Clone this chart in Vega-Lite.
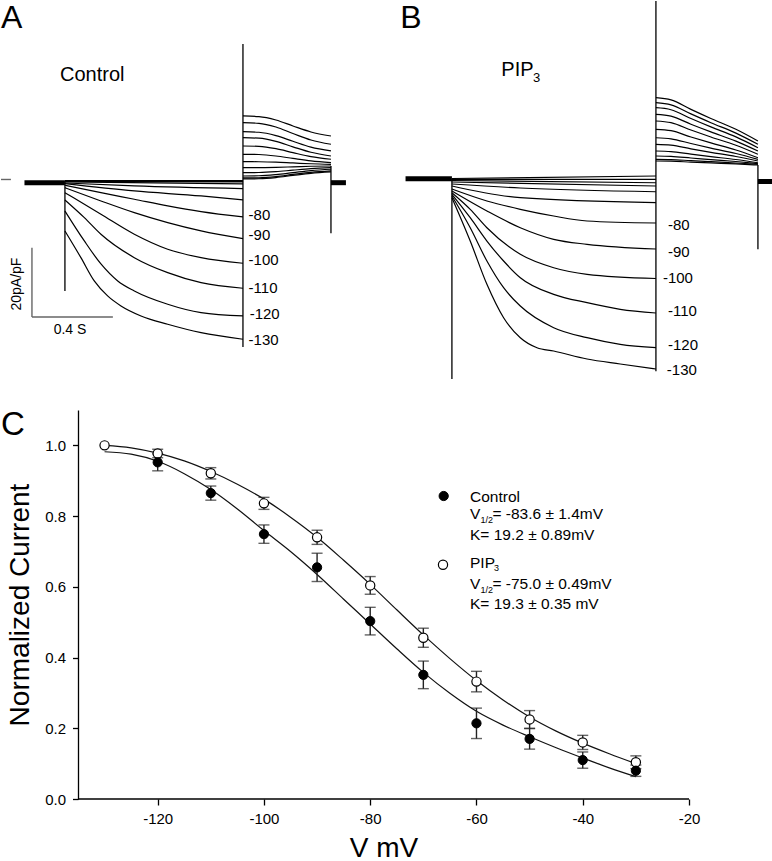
{
"$schema": "https://vega.github.io/schema/vega-lite/v6.json",
"padding": 0,
"background": "white",
"spacing": 28,
"config": {"view": {"stroke": null}, "font": "Liberation Sans", "text": {"font": "Liberation Sans", "color": "black"}},
"vconcat": [
{"hconcat": [
{"width": 386, "height": 380,
"layer": [
{"data": {"values": [
{"k":"s130","t":0.2,"i":-14.44},{"k":"s130","t":0.279,"i":-22.16},{"k":"s130","t":0.345,"i":-28.89},{"k":"s130","t":0.411,"i":-33.22},{"k":"s130","t":0.477,"i":-36.11},{"k":"s130","t":0.576,"i":-39.0},{"k":"s130","t":0.708,"i":-41.41},{"k":"s130","t":0.873,"i":-43.84},{"k":"s130","t":1.08,"i":-45.74},
{"k":"s120","t":0.2,"i":-8.67},{"k":"s120","t":0.296,"i":-17.33},{"k":"s120","t":0.378,"i":-23.98},{"k":"s120","t":0.461,"i":-28.89},{"k":"s120","t":0.543,"i":-31.78},{"k":"s120","t":0.708,"i":-35.62},{"k":"s120","t":0.873,"i":-38.05},{"k":"s120","t":1.08,"i":-39.0},
{"k":"s110","t":0.2,"i":-5.49},{"k":"s110","t":0.296,"i":-10.6},{"k":"s110","t":0.378,"i":-15.4},{"k":"s110","t":0.543,"i":-22.16},{"k":"s110","t":0.708,"i":-26.49},{"k":"s110","t":0.873,"i":-29.38},{"k":"s110","t":1.08,"i":-31.0},
{"k":"s100","t":0.2,"i":-3.38},{"k":"s100","t":0.378,"i":-9.62},{"k":"s100","t":0.543,"i":-15.4},{"k":"s100","t":0.708,"i":-19.73},{"k":"s100","t":0.873,"i":-22.16},{"k":"s100","t":1.08,"i":-23.77},
{"k":"s90","t":0.2,"i":-1.94},{"k":"s90","t":0.378,"i":-5.78},{"k":"s90","t":0.543,"i":-9.16},{"k":"s90","t":0.708,"i":-12.05},{"k":"s90","t":0.873,"i":-14.44},{"k":"s90","t":1.08,"i":-16.67},
{"k":"s80","t":0.2,"i":-1.24},{"k":"s80","t":0.378,"i":-3.38},{"k":"s80","t":0.543,"i":-5.29},{"k":"s80","t":0.708,"i":-7.22},{"k":"s80","t":0.873,"i":-8.87},{"k":"s80","t":1.08,"i":-10.4},
{"k":"s70","t":0.2,"i":-0.78},{"k":"s70","t":0.543,"i":-2.89},{"k":"s70","t":0.873,"i":-4.33},{"k":"s70","t":1.08,"i":-5.49},
{"k":"s60","t":0.2,"i":-0.58},{"k":"s60","t":0.543,"i":-1.44},{"k":"s60","t":1.08,"i":-2.22},
{"k":"s50","t":0.2,"i":-0.29},{"k":"s50","t":1.08,"i":-0.87},
{"k":"s40","t":0.2,"i":-0.14},{"k":"s40","t":1.08,"i":-0.29},
{"k":"s30","t":0.2,"i":0},{"k":"s30","t":1.08,"i":-0.09},
{"k":"s20","t":0.2,"i":0.09},{"k":"s20","t":1.08,"i":0.14},
{"k":"a130","t":1.08,"i":18.78},{"k":"a130","t":1.159,"i":18.6},{"k":"a130","t":1.243,"i":17.62},{"k":"a130","t":1.327,"i":15.89},{"k":"a130","t":1.416,"i":14.16},{"k":"a130","t":1.515,"i":13.0},
{"k":"a120","t":1.08,"i":16.84},{"k":"a120","t":1.159,"i":16.66},{"k":"a120","t":1.243,"i":15.6},{"k":"a120","t":1.327,"i":13.72},{"k":"a120","t":1.416,"i":11.84},{"k":"a120","t":1.515,"i":10.6},
{"k":"a110","t":1.08,"i":14.24},{"k":"a110","t":1.159,"i":14.07},{"k":"a110","t":1.243,"i":13.12},{"k":"a110","t":1.327,"i":11.46},{"k":"a110","t":1.416,"i":9.79},{"k":"a110","t":1.515,"i":8.67},
{"k":"a100","t":1.08,"i":12.51},{"k":"a100","t":1.159,"i":12.35},{"k":"a100","t":1.243,"i":11.44},{"k":"a100","t":1.327,"i":9.87},{"k":"a100","t":1.416,"i":8.29},{"k":"a100","t":1.515,"i":7.22},
{"k":"a90","t":1.08,"i":10.11},{"k":"a90","t":1.159,"i":10.0},{"k":"a90","t":1.243,"i":9.33},{"k":"a90","t":1.327,"i":8.19},{"k":"a90","t":1.416,"i":7.05},{"k":"a90","t":1.515,"i":6.27},
{"k":"a80","t":1.08,"i":7.71},{"k":"a80","t":1.159,"i":7.64},{"k":"a80","t":1.243,"i":7.22},{"k":"a80","t":1.327,"i":6.5},{"k":"a80","t":1.416,"i":5.78},{"k":"a80","t":1.515,"i":5.29},
{"k":"a70","t":1.08,"i":5.58},{"k":"a70","t":1.159,"i":5.55},{"k":"a70","t":1.243,"i":5.43},{"k":"a70","t":1.327,"i":5.2},{"k":"a70","t":1.416,"i":4.97},{"k":"a70","t":1.515,"i":4.82},
{"k":"a60","t":1.08,"i":3.84},{"k":"a60","t":1.159,"i":3.86},{"k":"a60","t":1.243,"i":3.93},{"k":"a60","t":1.327,"i":4.09},{"k":"a60","t":1.416,"i":4.25},{"k":"a60","t":1.515,"i":4.33},
{"k":"a50","t":1.08,"i":2.4},{"k":"a50","t":1.159,"i":2.44},{"k":"a50","t":1.243,"i":2.69},{"k":"a50","t":1.327,"i":3.12},{"k":"a50","t":1.416,"i":3.55},{"k":"a50","t":1.515,"i":3.84},
{"k":"a40","t":1.08,"i":1.44},{"k":"a40","t":1.159,"i":1.5},{"k":"a40","t":1.243,"i":1.85},{"k":"a40","t":1.327,"i":2.41},{"k":"a40","t":1.416,"i":3.0},{"k":"a40","t":1.515,"i":3.38},
{"k":"a30","t":1.08,"i":0.87},{"k":"a30","t":1.159,"i":0.92},{"k":"a30","t":1.243,"i":1.27},{"k":"a30","t":1.327,"i":1.88},{"k":"a30","t":1.416,"i":2.48},{"k":"a30","t":1.515,"i":2.89},
{"k":"a20","t":1.08,"i":0.58},{"k":"a20","t":1.159,"i":0.64},{"k":"a20","t":1.243,"i":0.98},{"k":"a20","t":1.327,"i":1.59},{"k":"a20","t":1.416,"i":2.2},{"k":"a20","t":1.515,"i":2.6}
]},
"mark": {"type": "line", "interpolate": "monotone", "color": "black", "strokeWidth": 1.2},
"encoding": {
"x": {"field": "t", "type": "quantitative", "scale": {"domain": [-0.116, 1.792], "nice": false, "zero": false}, "axis": null},
"y": {"field": "i", "type": "quantitative", "scale": {"domain": [-57.8, 52.0], "nice": false, "zero": false}, "axis": null},
"detail": {"field": "k"}}},
{"data": {"values": [{"t":0.2,"i":0,"i2":-31.78},{"t":1.08,"i":39.58,"i2":-47.96},{"t":1.515,"i":4.33,"i2":-15.11}]},
"mark": {"type": "rule", "color": "black", "strokeWidth": 1.3},
"encoding": {"x": {"field": "t", "type": "quantitative", "axis": null}, "y": {"field": "i", "type": "quantitative", "axis": null}, "y2": {"field": "i2"}}},
{"data": {"values": [{"t":0.0,"t2":0.2,"i":-0.5},{"t":1.515,"t2":1.589,"i":-0.5}]},
"mark": {"type": "rule", "color": "black", "strokeWidth": 5},
"encoding": {"x": {"field": "t", "type": "quantitative", "axis": null}, "x2": {"field": "t2"}, "y": {"field": "i", "type": "quantitative", "axis": null}}},
{"data": {"values": [{"t":0.037,"t2":0.037,"i":-19.3,"i2":-39.3},{"t":0.037,"t2":0.437,"i":-39.3,"i2":-39.3},{"t":-0.116,"t2":-0.067,"i":0.43,"i2":0.43}]},
"mark": {"type": "rule", "color": "#666666", "strokeWidth": 1.4},
"encoding": {"x": {"field": "t", "type": "quantitative", "axis": null}, "x2": {"field": "t2"}, "y": {"field": "i", "type": "quantitative", "axis": null}, "y2": {"field": "i2"}}},
{"data": {"values": [{"t":1.108,"i":-9.91,"label":"-80"},{"t":1.108,"i":-15.6,"label":"-90"},{"t":1.108,"i":-22.91,"label":"-100"},{"t":1.108,"i":-31.0,"label":"-110"},{"t":1.113,"i":-38.34,"label":"-120"},{"t":1.108,"i":-45.93,"label":"-130"}]},
"mark": {"type": "text", "align": "left", "baseline": "middle", "fontSize": 15},
"encoding": {"x": {"field": "t", "type": "quantitative", "axis": null}, "y": {"field": "i", "type": "quantitative", "axis": null}, "text": {"field": "label"}}},
{"data": {"values": [{"t":0.1755,"i":28.9,"label":"Control"}]},
"mark": {"type": "text", "align": "left", "baseline": "alphabetic", "fontSize": 20},
"encoding": {"x": {"field": "t", "type": "quantitative", "axis": null}, "y": {"field": "i", "type": "quantitative", "axis": null}, "text": {"field": "label"}}},
{"data": {"values": [{"t":-0.116,"i":44.1,"label":"A"}]},
"mark": {"type": "text", "align": "left", "baseline": "alphabetic", "fontSize": 32},
"encoding": {"x": {"field": "t", "type": "quantitative", "axis": null}, "y": {"field": "i", "type": "quantitative", "axis": null}, "text": {"field": "label"}}},
{"data": {"values": [{"t":-0.037,"i":-29.8,"label":"20pA/pF"}]},
"mark": {"type": "text", "align": "center", "baseline": "middle", "fontSize": 14, "angle": 270},
"encoding": {"x": {"field": "t", "type": "quantitative", "axis": null}, "y": {"field": "i", "type": "quantitative", "axis": null}, "text": {"field": "label"}}},
{"data": {"values": [{"t":0.225,"i":-44.2,"label":"0.4 S"}]},
"mark": {"type": "text", "align": "center", "baseline": "alphabetic", "fontSize": 14},
"encoding": {"x": {"field": "t", "type": "quantitative", "axis": null}, "y": {"field": "i", "type": "quantitative", "axis": null}, "text": {"field": "label"}}}
]},
{"width": 386, "height": 380,
"layer": [
{"data": {"values": [
{"k":"s130","t":0.2,"i":-5.49},{"k":"s130","t":0.279,"i":-18.0},{"k":"s130","t":0.351,"i":-30.51},{"k":"s130","t":0.423,"i":-40.16},{"k":"s130","t":0.495,"i":-45.93},{"k":"s130","t":0.567,"i":-48.82},{"k":"s130","t":0.639,"i":-49.78},{"k":"s130","t":0.783,"i":-52.09},{"k":"s130","t":0.926,"i":-53.53},{"k":"s130","t":1.08,"i":-54.98},
{"k":"s120","t":0.2,"i":-5.0},{"k":"s120","t":0.279,"i":-14.16},{"k":"s120","t":0.351,"i":-23.78},{"k":"s120","t":0.423,"i":-31.49},{"k":"s120","t":0.495,"i":-36.78},{"k":"s120","t":0.639,"i":-43.04},{"k":"s120","t":0.783,"i":-45.93},{"k":"s120","t":0.926,"i":-47.84},{"k":"s120","t":1.08,"i":-48.82},
{"k":"s110","t":0.2,"i":-4.51},{"k":"s110","t":0.279,"i":-11.27},{"k":"s110","t":0.351,"i":-18.0},{"k":"s110","t":0.423,"i":-23.78},{"k":"s110","t":0.495,"i":-28.6},{"k":"s110","t":0.639,"i":-33.4},{"k":"s110","t":0.783,"i":-35.82},{"k":"s110","t":0.926,"i":-37.73},{"k":"s110","t":1.08,"i":-38.8},
{"k":"s100","t":0.2,"i":-4.04},{"k":"s100","t":0.279,"i":-8.84},{"k":"s100","t":0.351,"i":-14.16},{"k":"s100","t":0.495,"i":-21.84},{"k":"s100","t":0.639,"i":-25.71},{"k":"s100","t":0.783,"i":-27.62},{"k":"s100","t":1.08,"i":-28.83},
{"k":"s90","t":0.2,"i":-3.55},{"k":"s90","t":0.351,"i":-9.33},{"k":"s90","t":0.495,"i":-14.16},{"k":"s90","t":0.639,"i":-17.51},{"k":"s90","t":0.783,"i":-18.95},{"k":"s90","t":1.08,"i":-20.31},
{"k":"s80","t":0.2,"i":-2.98},{"k":"s80","t":0.351,"i":-6.44},{"k":"s80","t":0.495,"i":-8.84},{"k":"s80","t":0.639,"i":-10.78},{"k":"s80","t":0.783,"i":-12.22},{"k":"s80","t":1.08,"i":-12.8},
{"k":"s70","t":0.2,"i":-2.11},{"k":"s70","t":0.495,"i":-5.49},{"k":"s70","t":1.08,"i":-6.93},
{"k":"s60","t":0.2,"i":-1.53},{"k":"s60","t":0.495,"i":-2.69},{"k":"s60","t":1.08,"i":-3.76},
{"k":"s50","t":0.2,"i":-0.95},{"k":"s50","t":1.08,"i":-2.11},
{"k":"s40","t":0.2,"i":-0.52},{"k":"s40","t":1.08,"i":-1.16},
{"k":"s30","t":0.2,"i":-0.17},{"k":"s30","t":1.08,"i":-0.17},
{"k":"s20","t":0.2,"i":0.06},{"k":"s20","t":1.08,"i":0.78},
{"k":"a130","t":1.08,"i":23.4},{"k":"a130","t":1.145,"i":22.76},{"k":"a130","t":1.231,"i":20.02},{"k":"a130","t":1.317,"i":17.39},{"k":"a130","t":1.425,"i":14.27},{"k":"a130","t":1.52,"i":10.89},
{"k":"a120","t":1.08,"i":21.96},{"k":"a120","t":1.145,"i":21.35},{"k":"a120","t":1.231,"i":18.72},{"k":"a120","t":1.317,"i":16.18},{"k":"a120","t":1.425,"i":13.17},{"k":"a120","t":1.52,"i":9.94},
{"k":"a110","t":1.08,"i":20.51},{"k":"a110","t":1.145,"i":19.93},{"k":"a110","t":1.231,"i":17.39},{"k":"a110","t":1.317,"i":14.96},{"k":"a110","t":1.425,"i":12.08},{"k":"a110","t":1.52,"i":8.96},
{"k":"a100","t":1.08,"i":18.6},{"k":"a100","t":1.145,"i":18.08},{"k":"a100","t":1.231,"i":15.74},{"k":"a100","t":1.317,"i":13.52},{"k":"a100","t":1.425,"i":10.86},{"k":"a100","t":1.52,"i":8.0},
{"k":"a90","t":1.08,"i":16.67},{"k":"a90","t":1.145,"i":16.18},{"k":"a90","t":1.231,"i":14.07},{"k":"a90","t":1.317,"i":12.05},{"k":"a90","t":1.425,"i":9.65},{"k":"a90","t":1.52,"i":7.05},
{"k":"a80","t":1.08,"i":14.27},{"k":"a80","t":1.145,"i":13.87},{"k":"a80","t":1.231,"i":12.05},{"k":"a80","t":1.317,"i":10.34},{"k":"a80","t":1.425,"i":8.29},{"k":"a80","t":1.52,"i":6.07},
{"k":"a70","t":1.08,"i":11.84},{"k":"a70","t":1.145,"i":11.53},{"k":"a70","t":1.231,"i":10.17},{"k":"a70","t":1.317,"i":8.84},{"k":"a70","t":1.425,"i":7.28},{"k":"a70","t":1.52,"i":5.6},
{"k":"a60","t":1.08,"i":9.94},{"k":"a60","t":1.145,"i":9.71},{"k":"a60","t":1.231,"i":8.64},{"k":"a60","t":1.317,"i":7.63},{"k":"a60","t":1.425,"i":6.41},{"k":"a60","t":1.52,"i":5.11},
{"k":"a50","t":1.08,"i":8.0},{"k":"a50","t":1.145,"i":7.83},{"k":"a50","t":1.231,"i":7.08},{"k":"a50","t":1.317,"i":6.38},{"k":"a50","t":1.425,"i":5.55},{"k":"a50","t":1.52,"i":4.62},
{"k":"a40","t":1.08,"i":6.56},{"k":"a40","t":1.145,"i":6.44},{"k":"a40","t":1.231,"i":5.98},{"k":"a40","t":1.317,"i":5.52},{"k":"a40","t":1.425,"i":4.97},{"k":"a40","t":1.52,"i":4.39},
{"k":"a30","t":1.08,"i":5.6},{"k":"a30","t":1.145,"i":5.52},{"k":"a30","t":1.231,"i":5.21},{"k":"a30","t":1.317,"i":4.91},{"k":"a30","t":1.425,"i":4.54},{"k":"a30","t":1.52,"i":4.16},
{"k":"a20","t":1.08,"i":5.11},{"k":"a20","t":1.145,"i":5.06},{"k":"a20","t":1.231,"i":4.8},{"k":"a20","t":1.317,"i":4.56},{"k":"a20","t":1.425,"i":4.28},{"k":"a20","t":1.52,"i":3.96}
]},
"mark": {"type": "line", "interpolate": "monotone", "color": "black", "strokeWidth": 1.2},
"encoding": {
"x": {"field": "t", "type": "quantitative", "scale": {"domain": [-0.08, 1.585], "nice": false, "zero": false}, "axis": null},
"y": {"field": "i", "type": "quantitative", "scale": {"domain": [-58.44, 51.34], "nice": false, "zero": false}, "axis": null},
"detail": {"field": "k"}}},
{"data": {"values": [{"t":0.2,"i":0,"i2":-57.86},{"t":1.08,"i":51.34,"i2":-55.6},{"t":1.52,"i":3.96,"i2":-20.4}]},
"mark": {"type": "rule", "color": "black", "strokeWidth": 1.3},
"encoding": {"x": {"field": "t", "type": "quantitative", "axis": null}, "y": {"field": "i", "type": "quantitative", "axis": null}, "y2": {"field": "i2"}}},
{"data": {"values": [{"t":0.0,"t2":0.2,"i":0},{"t":1.52,"t2":1.585,"i":-0.8}]},
"mark": {"type": "rule", "color": "black", "strokeWidth": 5},
"encoding": {"x": {"field": "t", "type": "quantitative", "axis": null}, "x2": {"field": "t2"}, "y": {"field": "i", "type": "quantitative", "axis": null}}},
{"data": {"values": [{"t":1.132,"i":-13.38,"label":"-80"},{"t":1.132,"i":-21.09,"label":"-90"},{"t":1.11,"i":-28.77,"label":"-100"},{"t":1.132,"i":-38.22,"label":"-110"},{"t":1.132,"i":-48.04,"label":"-120"},{"t":1.127,"i":-55.27,"label":"-130"}]},
"mark": {"type": "text", "align": "left", "baseline": "middle", "fontSize": 15},
"encoding": {"x": {"field": "t", "type": "quantitative", "axis": null}, "y": {"field": "i", "type": "quantitative", "axis": null}, "text": {"field": "label"}}},
{"data": {"values": [{"t":0.413,"i":29.67,"label":"PIP"}]},
"mark": {"type": "text", "align": "left", "baseline": "alphabetic", "fontSize": 20},
"encoding": {"x": {"field": "t", "type": "quantitative", "axis": null}, "y": {"field": "i", "type": "quantitative", "axis": null}, "text": {"field": "label"}}},
{"data": {"values": [{"t":0.5496,"i":27.94,"label":"3"}]},
"mark": {"type": "text", "align": "left", "baseline": "alphabetic", "fontSize": 13},
"encoding": {"x": {"field": "t", "type": "quantitative", "axis": null}, "y": {"field": "i", "type": "quantitative", "axis": null}, "text": {"field": "label"}}},
{"data": {"values": [{"t":-0.023,"i":43.4,"label":"B"}]},
"mark": {"type": "text", "align": "left", "baseline": "alphabetic", "fontSize": 32},
"encoding": {"x": {"field": "t", "type": "quantitative", "axis": null}, "y": {"field": "i", "type": "quantitative", "axis": null}, "text": {"field": "label"}}}
]}
], "spacing": 0},
{"width": 688, "height": 389,
"layer": [
{"data": {"values": [
{"g":"Control","v":-130,"y":0.982},{"g":"Control","v":-125,"y":0.975},{"g":"Control","v":-120,"y":0.955},{"g":"Control","v":-115,"y":0.92},{"g":"Control","v":-110,"y":0.875},{"g":"Control","v":-105,"y":0.82},{"g":"Control","v":-100,"y":0.759},{"g":"Control","v":-95,"y":0.7},{"g":"Control","v":-90,"y":0.635},{"g":"Control","v":-85,"y":0.565},{"g":"Control","v":-80,"y":0.495},{"g":"Control","v":-75,"y":0.425},{"g":"Control","v":-70,"y":0.358},{"g":"Control","v":-65,"y":0.299},{"g":"Control","v":-60,"y":0.248},{"g":"Control","v":-55,"y":0.209},{"g":"Control","v":-50,"y":0.176},{"g":"Control","v":-45,"y":0.145},{"g":"Control","v":-40,"y":0.116},{"g":"Control","v":-35,"y":0.088},{"g":"Control","v":-30,"y":0.063},
{"g":"PIP3","v":-130,"y":1.0},{"g":"PIP3","v":-125,"y":0.993},{"g":"PIP3","v":-120,"y":0.978},{"g":"PIP3","v":-115,"y":0.956},{"g":"PIP3","v":-110,"y":0.926},{"g":"PIP3","v":-105,"y":0.89},{"g":"PIP3","v":-100,"y":0.848},{"g":"PIP3","v":-95,"y":0.797},{"g":"PIP3","v":-90,"y":0.74},{"g":"PIP3","v":-85,"y":0.675},{"g":"PIP3","v":-80,"y":0.607},{"g":"PIP3","v":-75,"y":0.535},{"g":"PIP3","v":-70,"y":0.464},{"g":"PIP3","v":-65,"y":0.397},{"g":"PIP3","v":-60,"y":0.335},{"g":"PIP3","v":-55,"y":0.28},{"g":"PIP3","v":-50,"y":0.232},{"g":"PIP3","v":-45,"y":0.192},{"g":"PIP3","v":-40,"y":0.158},{"g":"PIP3","v":-35,"y":0.128},{"g":"PIP3","v":-30,"y":0.1}
]},
"mark": {"type": "line", "interpolate": "monotone", "color": "#111111", "strokeWidth": 1.2},
"encoding": {
"x": {"field": "v", "type": "quantitative", "title": "V mV", "scale": {"domain": [-149.49, -20], "nice": false, "zero": false},
"axis": {"title": "V mV", "values": [-120,-100,-80,-60,-40,-20], "labelExpr": "toString(datum.value)", "domain": false, "grid": false, "tickColor": "black", "labelColor": "black", "titleColor": "black", "labelFont": "Liberation Sans", "titleFont": "Liberation Sans", "labelFontSize": 15, "titleFontSize": 28, "titleFontWeight": "normal", "titleX": 382.5, "titleAnchor": "middle", "tickSize": 6, "labelPadding": 6, "titlePadding": 8, "tickWidth": 1.3, "labelFlush": false, "labelOverlap": false}},
"y": {"field": "y", "type": "quantitative", "title": "Normalized Current", "scale": {"domain": [0, 1.1], "nice": false, "zero": false},
"axis": {"title": "Normalized Current", "offset": -77, "values": [0,0.2,0.4,0.6,0.8,1.0], "format": ".1f", "grid": false, "domainColor": "black", "tickColor": "black", "labelColor": "black", "titleColor": "black", "labelFont": "Liberation Sans", "titleFont": "Liberation Sans", "labelFontSize": 15, "titleFontSize": 28, "titleFontWeight": "normal", "tickSize": 5.5, "labelPadding": 7, "titlePadding": 10, "domainWidth": 1.3, "tickWidth": 1.3, "labelFlush": false, "labelOverlap": false}},
"detail": {"field": "g"}}},
{"data": {"values": [{"v":-135,"v2":-20,"y":0}]},
"mark": {"type": "rule", "color": "black", "strokeWidth": 1.3},
"encoding": {"x": {"field": "v", "type": "quantitative", "title": "V mV"}, "x2": {"field": "v2"}, "y": {"field": "y", "type": "quantitative", "title": "Normalized Current"}}},
{"data": {"values": [
{"g":"PIP3","v":-120,"y":0.977,"e":0.012},{"g":"PIP3","v":-110,"y":0.921,"e":0.016},{"g":"PIP3","v":-100,"y":0.836,"e":0.017},{"g":"PIP3","v":-90,"y":0.74,"e":0.02},{"g":"PIP3","v":-80,"y":0.604,"e":0.025},{"g":"PIP3","v":-70,"y":0.456,"e":0.027},{"g":"PIP3","v":-60,"y":0.332,"e":0.029},{"g":"PIP3","v":-50,"y":0.225,"e":0.025},{"g":"PIP3","v":-40,"y":0.16,"e":0.02},{"g":"PIP3","v":-30,"y":0.104,"e":0.018},
{"g":"Control","v":-120,"y":0.952,"e":0.024},{"g":"Control","v":-110,"y":0.865,"e":0.02},{"g":"Control","v":-100,"y":0.749,"e":0.026},{"g":"Control","v":-90,"y":0.655,"e":0.04},{"g":"Control","v":-80,"y":0.503,"e":0.039},{"g":"Control","v":-70,"y":0.351,"e":0.039},{"g":"Control","v":-60,"y":0.214,"e":0.043},{"g":"Control","v":-50,"y":0.17,"e":0.029},{"g":"Control","v":-40,"y":0.11,"e":0.023},{"g":"Control","v":-30,"y":0.08,"e":0.016}
]},
"mark": {"type": "errorbar", "color": "#222222", "ticks": {"size": 11, "thickness": 1.4, "color": "#222222"}, "rule": {"strokeWidth": 1.4, "color": "#222222"}},
"encoding": {"x": {"field": "v", "type": "quantitative", "title": "V mV"}, "y": {"field": "y", "type": "quantitative", "title": "Normalized Current"}, "yError": {"field": "e"}, "detail": {"field": "g"}}},
{"data": {"values": [
{"v":-130,"y":1.0},{"v":-120,"y":0.977},{"v":-110,"y":0.921},{"v":-100,"y":0.836},{"v":-90,"y":0.74},{"v":-80,"y":0.604},{"v":-70,"y":0.456},{"v":-60,"y":0.332},{"v":-50,"y":0.225},{"v":-40,"y":0.16},{"v":-30,"y":0.104},{"v":-66.3,"y":0.6625}
]},
"mark": {"type": "point", "shape": "circle", "filled": false, "fill": "white", "fillOpacity": 1, "stroke": "black", "strokeWidth": 1.2, "size": 85, "opacity": 1},
"encoding": {"x": {"field": "v", "type": "quantitative", "title": "V mV"}, "y": {"field": "y", "type": "quantitative", "title": "Normalized Current"}}},
{"data": {"values": [
{"v":-120,"y":0.952},{"v":-110,"y":0.865},{"v":-100,"y":0.749},{"v":-90,"y":0.655},{"v":-80,"y":0.503},{"v":-70,"y":0.351},{"v":-60,"y":0.214},{"v":-50,"y":0.17},{"v":-40,"y":0.11},{"v":-30,"y":0.08},{"v":-66.17,"y":0.8568}
]},
"mark": {"type": "point", "shape": "circle", "filled": true, "color": "black", "stroke": "black", "strokeWidth": 1, "size": 85, "opacity": 1},
"encoding": {"x": {"field": "v", "type": "quantitative", "title": "V mV"}, "y": {"field": "y", "type": "quantitative", "title": "Normalized Current"}}},
{"data": {"values": [
{"v":-61.22,"y":0.8398,"label":"Control"},{"v":-61.22,"y":0.7926,"label":"V"},{"v":-57.0,"y":0.7926,"label":"= -83.6 ± 1.4mV"},{"v":-61.22,"y":0.7332,"label":"K= 19.2 ± 0.89mV"},
{"v":-61.22,"y":0.654,"label":"PIP"},{"v":-61.22,"y":0.5929,"label":"V"},{"v":-57.0,"y":0.5929,"label":"= -75.0 ± 0.49mV"},{"v":-61.22,"y":0.5364,"label":"K= 19.3 ± 0.35 mV"}
]},
"mark": {"type": "text", "align": "left", "baseline": "alphabetic", "fontSize": 15.5},
"encoding": {"x": {"field": "v", "type": "quantitative", "title": "V mV"}, "y": {"field": "y", "type": "quantitative", "title": "Normalized Current"}, "text": {"field": "label"}}},
{"data": {"values": [
{"v":-59.25,"y":0.7818,"label":"1/2"},{"v":-59.25,"y":0.5822,"label":"1/2"},{"v":-56.7,"y":0.6461,"label":"3"}
]},
"mark": {"type": "text", "align": "left", "baseline": "alphabetic", "fontSize": 9},
"encoding": {"x": {"field": "v", "type": "quantitative", "title": "V mV"}, "y": {"field": "y", "type": "quantitative", "title": "Normalized Current"}, "text": {"field": "label"}}},
{"data": {"values": [{"v":-149.49,"y":1.0293,"label":"C"}]},
"mark": {"type": "text", "align": "left", "baseline": "alphabetic", "fontSize": 33},
"encoding": {"x": {"field": "v", "type": "quantitative", "title": "V mV"}, "y": {"field": "y", "type": "quantitative", "title": "Normalized Current"}, "text": {"field": "label"}}}
]}
]
}
